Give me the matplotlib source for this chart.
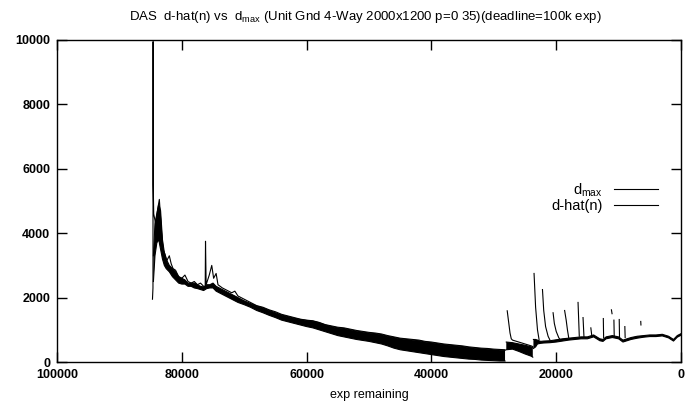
import numpy as np
import matplotlib.pyplot as plt

plt.rcParams['font.family'] = ['Liberation Sans', 'DejaVu Sans']
plt.rcParams['mathtext.fontset'] = 'custom'
plt.rcParams['mathtext.rm'] = 'Liberation Sans'

# d_max (thin line); NaN separates the spikes after the drop
dmax_x = [84700, 84620, 84600, 84580, 84500, 84200, 83900, 83600, 83300, 83000,
          82700, 82400, 82000, 81700, 81400, 81000, 80500, 80000, 79500, 79000,
          78500, 78000, 77500, 77000, 76500, 76250, 76200, 76100, 75600, 75200,
          74900, 74500, 74200, 73500, 73000, 72500, 72000, 71500, 71000, 70000,
          69000, 68000, 67000, 66000, 65000, 64000, 63000, 62000, 61000, 60000,
          59000, 58000, 57000, 56000, 55000, 54000, 53000, 52000, 51000, 50000,
          49000, 48000, 47000, 46000, 45000, 44000, 43000, 42000, 41000, 40000,
          39000, 38000, 37000, 36000, 35000, 34000, 33000, 32000, 31000, 30000,
          29000, 28200, np.nan,
          27850, 27600, 27400, 27200, 27000, 26000, 25000, 24000, 23750, np.nan,
          23550, 23300, 23000, 22750, np.nan,
          22200, 22000, 21700, 21300, 21000, np.nan,
          20500, 20300, 20000, 19600, 19400, np.nan,
          18650, 18400, 18200, 18000, np.nan,
          16500, 16400, 16300, np.nan,
          15700, 15600, 15550, np.nan,
          14450, 14350, 14300, np.nan,
          12450, 12420, 12400, np.nan,
          11150, 11050, np.nan,
          10750, 10700, np.nan,
          9900, 9850, np.nan,
          9000, 8950, np.nan,
          6450, 6420]
dmax_y = [1950, 2300, 9950, 5500, 4600, 4300, 4700, 5050, 4200, 3500,
          3350, 3150, 3300, 3050, 2900, 2850, 2650, 2600, 2700, 2500,
          2450, 2500, 2400, 2450, 2350, 2330, 3750, 2400, 2700, 3000,
          2600, 2750, 2400, 2300, 2250, 2200, 2150, 2200, 2050, 1950,
          1850, 1750, 1700, 1620, 1560, 1480, 1430, 1380, 1330, 1300,
          1280, 1230, 1160, 1120, 1080, 1060, 1020, 980, 950, 920,
          900, 870, 820, 780, 740, 720, 700, 680, 640, 620,
          590, 560, 540, 520, 500, 470, 450, 430, 420, 400,
          390, 380, np.nan,
          1590, 1200, 900, 720, 680, 620, 560, 500, 480, np.nan,
          2750, 1700, 1000, 700, np.nan,
          2250, 1600, 1100, 800, 680, np.nan,
          1530, 1200, 950, 760, 700, np.nan,
          1600, 1300, 1000, 760, np.nan,
          1850, 1300, 800, np.nan,
          1380, 1000, 780, np.nan,
          1060, 900, 820, np.nan,
          1350, 1000, 760, np.nan,
          1620, 1500, np.nan,
          1300, 780, np.nan,
          1320, 720, np.nan,
          1100, 760, np.nan,
          1260, 1150]

# d-hat(n): oscillating band, upper / lower envelope
dhat_x = [84550, 84300, 84000, 83700, 83400, 83100, 82800, 82500, 82000, 81500,
          81000, 80500, 80000, 79500, 79000, 78500, 78000, 77500, 77000, 76500,
          76000, 75500, 75000, 74500, 74000, 73000, 72000, 71000, 70000, 69000,
          68000, 67000, 66000, 65000, 64000, 63000, 62000, 61000, 60000, 59000,
          58000, 57000, 56000, 55000, 54000, 53000, 52000, 51000, 50000, 49000,
          48000, 47000, 46000, 45000, 44000, 43000, 42000, 41000, 40000, 39000,
          38000, 37000, 36000, 35000, 34000, 33000, 32000, 31000, 30000, 29000,
          28200, np.nan,
          28000, 27000, 26000, 25000, 24000, 23750, np.nan,
          23650, 23300, 23000, 22500, 22000, 21000, 20000, 19000, 18000, 17000,
          16000, 15000, 14000, 13000, 12500, 12000, 11000, 10000, 9300, 8000,
          7000, 6000, 5000, 4000, 3000, 2000, 1200, 600, 0]
dhat_hi = [3300, 4300, 4600, 4900, 4700, 3800, 3400, 3200, 3000, 2900,
           2800, 2650, 2600, 2550, 2450, 2450, 2450, 2400, 2350, 2330,
           2400, 2400, 2450, 2350, 2300, 2200, 2100, 2000, 1900, 1820,
           1740, 1680, 1600, 1530, 1460, 1410, 1360, 1320, 1290, 1270,
           1220, 1150, 1100, 1060, 1040, 1000, 960, 930, 900, 880,
           850, 800, 760, 720, 700, 680, 660, 620, 600, 570,
           540, 520, 500, 480, 450, 430, 410, 400, 380, 370,
           360, np.nan,
           620, 600, 560, 520, 470, 450, np.nan,
           700, 700, 680, 640, 650, 660, 690, 720, 740, 760,
           780, 780, 840, 720, 700, 780, 820, 780, 680, 760,
           800, 820, 840, 840, 860, 800, 700, 820, 880]
dhat_lo = [2500, 3300, 3700, 3800, 3500, 3200, 3000, 2900, 2800, 2650,
           2550, 2450, 2420, 2420, 2350, 2350, 2300, 2280, 2250, 2220,
           2280, 2300, 2300, 2200, 2150, 2050, 1950, 1850, 1780, 1700,
           1600, 1530, 1450, 1380, 1300, 1250, 1200, 1150, 1100, 1060,
           1000, 940, 880, 820, 780, 740, 700, 670, 640, 600,
           560, 500, 430, 380, 350, 320, 290, 260, 230, 200,
           170, 150, 130, 110, 90, 80, 60, 50, 40, 30,
           30, np.nan,
           380, 400, 330, 250, 180, 150, np.nan,
           420, 470, 560, 580, 590, 600, 620, 650, 680, 700,
           720, 720, 780, 660, 640, 720, 760, 720, 620, 700,
           740, 770, 790, 790, 810, 750, 650, 770, 830]

xticks = [100000, 80000, 60000, 40000, 20000, 0]
yticks = [0, 2000, 4000, 6000, 8000, 10000]

fig = plt.figure(figsize=(6.85, 4.11), dpi=100)
ax = fig.add_axes([57 / 685, 49 / 411, 624 / 685, 322 / 411])

ax.plot(dmax_x, dmax_y, color='black', lw=0.8, label=r'd$_\mathrm{max}$')
ax.fill_between(dhat_x, dhat_lo, dhat_hi, color='black', lw=0)
ax.plot(dhat_x, dhat_hi, color='black', lw=0.8, label='d-hat(n)')
ax.plot(dhat_x, dhat_lo, color='black', lw=0.8)

ax.set_xlim(100000, 0)
ax.set_ylim(0, 10000)
ax.set_xticks(xticks)
ax.set_yticks(yticks)
ax.tick_params(direction='in', length=7, width=1, top=True, right=True,
               labelsize=9, pad=5)
for lab in ax.get_xticklabels() + ax.get_yticklabels():
    lab.set_fontweight('bold')
for s in ax.spines.values():
    s.set_linewidth(1)

ax.set_xlabel('exp remaining', fontsize=9, labelpad=6)
fig.text(0.533, 0.958,
         r'DAS  d-hat(n) vs  d$_\mathrm{max}$ (Unit Gnd 4-Way 2000x1200 p=0 35)(deadline=100k exp)',
         ha='center', va='center', fontsize=9.5)

ax.legend(loc='upper right', bbox_to_anchor=(0.975, 0.585), frameon=False,
          markerfirst=False, fontsize=10.5, handlelength=3.0, handletextpad=0.8,
          labelspacing=0.05, borderpad=0)

fig.savefig('out.png', dpi=100)
